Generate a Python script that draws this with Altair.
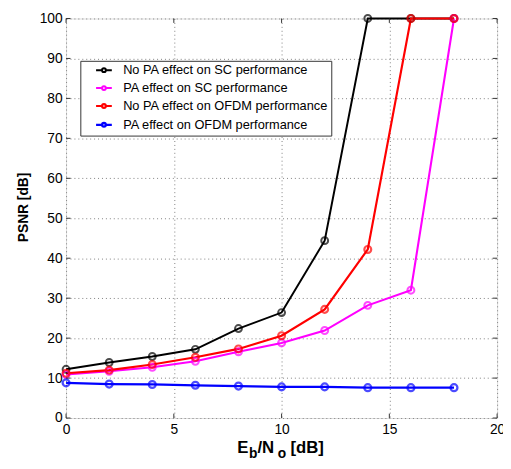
import altair as alt
import pandas as pd

# ---- data ----
x_vals = [0, 2, 4, 6, 8, 10, 12, 14, 16, 18]
no_pa_sc = [12.2, 13.9, 15.4, 17.2, 22.4, 26.4, 44.4, 100, 100, 100]
pa_sc = [10.9, 11.7, 12.7, 14.2, 16.6, 18.8, 21.9, 28.2, 32.0, 100]
no_pa_ofdm = [11.2, 12.0, 13.4, 15.2, 17.3, 20.6, 27.2, 42.2, 100, 100]
pa_ofdm = [8.8, 8.5, 8.4, 8.2, 8.0, 7.8, 7.8, 7.6, 7.6, 7.6]

series_names = [
    "No PA effect on SC performance",
    "PA effect on SC performance",
    "No PA effect on OFDM performance",
    "PA effect on OFDM performance",
]
series_values = [no_pa_sc, pa_sc, no_pa_ofdm, pa_ofdm]

x_ticks = [0, 5, 10, 15, 20]
y_ticks = [0, 10, 20, 30, 40, 50, 60, 70, 80, 90, 100]

# ---- styles ----
colors = ["#000000", "#ff00ff", "#ff0000", "#0000ff"]
line_widths = [2.0, 2.3, 2.7, 3.0]
FONT = "Liberation Sans"
W, H = 438, 406
FRAME = "#333333"
TICK = 4.5

rows = []
for name, vals in zip(series_names, series_values):
    for xv, yv in zip(x_vals, vals):
        rows.append({"series": name, "ebno": xv, "psnr": yv})
df = pd.DataFrame(rows)

xs = alt.Scale(domain=[0, 20], nice=False, zero=False)
ys = alt.Scale(domain=[0, 100], nice=False, zero=False)

x_axis = alt.Axis(values=x_ticks, grid=True, gridDash=[1, 3], gridColor="#7f7f7f",
                  gridWidth=1, ticks=False, domain=False, labelFont=FONT,
                  labelFontSize=14, labelColor="black", labelPadding=5,
                  labelFlush=False, labelOverlap=False, title=None)
y_axis = alt.Axis(values=y_ticks, grid=True, gridDash=[1, 3], gridColor="#7f7f7f",
                  gridWidth=1, ticks=False, domain=False, labelFont=FONT,
                  labelFontSize=14, labelColor="black", labelPadding=4,
                  labelOverlap=False, title=None)

# line with a small open circle, in units of sqrt(symbolSize) = 10 px
legend_symbol = ("M-1.6,0H-0.38M0.38,0H1.6"
                 "M-0.38,0A0.38,0.38,0,1,1,0.38,0A0.38,0.38,0,1,1,-0.38,0")

color = alt.Color(
    "series:N",
    scale=alt.Scale(domain=series_names, range=colors),
    sort=series_names,
    legend=alt.Legend(
        title=None, orient="none", legendX=14.5, legendY=43,
        symbolType=legend_symbol, symbolSize=100, symbolStrokeWidth=1.8,
        symbolFillColor="transparent", labelFont=FONT, labelFontSize=13,
        labelColor="black", labelOffset=13, rowPadding=4.2, padding=3,
        symbolOffset=14.5, strokeColor=FRAME, fillColor="white",
        cornerRadius=0, labelLimit=400,
    ),
)
width_enc = alt.StrokeWidth("series:N",
                            scale=alt.Scale(domain=series_names, range=line_widths),
                            legend=None)

base = alt.Chart(df)
lines = base.mark_line().encode(
    x=alt.X("ebno:Q", scale=xs, axis=x_axis),
    y=alt.Y("psnr:Q", scale=ys, axis=y_axis),
    color=color,
    strokeWidth=width_enc,
)
points = base.mark_point(shape="circle", filled=False, size=49).encode(
    x=alt.X("ebno:Q", scale=xs),
    y=alt.Y("psnr:Q", scale=ys),
    color=alt.Color("series:N", scale=alt.Scale(domain=series_names, range=colors), legend=None),
    strokeWidth=width_enc,
)

xt = pd.DataFrame({"v": x_ticks})
yt = pd.DataFrame({"v": y_ticks})
tick_bottom = alt.Chart(xt).mark_rule(color=FRAME, strokeWidth=1).encode(
    x=alt.X("v:Q", scale=xs), y=alt.value(H), y2=alt.value(H - TICK))
tick_top = alt.Chart(xt).mark_rule(color=FRAME, strokeWidth=1).encode(
    x=alt.X("v:Q", scale=xs), y=alt.value(0), y2=alt.value(TICK))
tick_left = alt.Chart(yt).mark_rule(color=FRAME, strokeWidth=1).encode(
    y=alt.Y("v:Q", scale=ys), x=alt.value(0), x2=alt.value(TICK))
tick_right = alt.Chart(yt).mark_rule(color=FRAME, strokeWidth=1).encode(
    y=alt.Y("v:Q", scale=ys), x=alt.value(W), x2=alt.value(W - TICK))

one = pd.DataFrame({"k": [0]})


def txt(s, x, y, size, **kw):
    return alt.Chart(one).mark_text(text=s, font=FONT, fontSize=size, fontWeight="bold",
                                    color="black", align="left", baseline="alphabetic",
                                    **kw).encode(x=alt.value(x), y=alt.value(y))


# x title: E_b/N_o [dB] (positions relative to plot origin 67,15)
ox, oy = 67, 15
xt_parts = [
    txt("E", 241 - ox, 456.7 - oy, 17),
    txt("b", 253 - ox, 462 - oy, 14),
    txt("/N", 261.5 - ox, 456.7 - oy, 17),
    txt("o", 282 - ox, 462 - oy, 14),
    txt("[dB]", 295 - ox, 456.7 - oy, 17),
]
y_title = alt.Chart(one).mark_text(text="PSNR [dB]", font=FONT, fontSize=14,
                                   fontWeight="bold", color="black", align="center",
                                   baseline="alphabetic", angle=270).encode(
    x=alt.value(28.5 - ox), y=alt.value(207 - oy))

chart = alt.layer(
    lines, points, tick_bottom, tick_top, tick_left, tick_right, y_title, *xt_parts
).resolve_scale(strokeWidth="shared").properties(
    width=W, height=H, autosize="none",
    padding={"left": 59, "top": 7, "right": 6, "bottom": 40},
).configure_view(stroke=FRAME, strokeWidth=1, fill="white").configure(background="white")

chart.save("out.html", embed_options={"renderer": "svg", "actions": False})
